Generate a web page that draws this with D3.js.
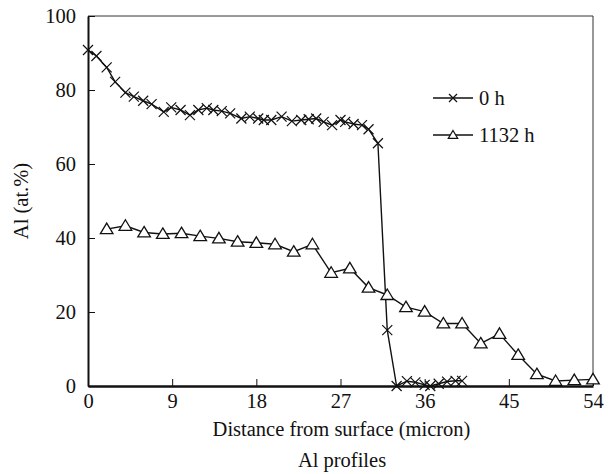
<!DOCTYPE html>
<html>
<head>
<meta charset="utf-8">
<script src="https://cdn.jsdelivr.net/npm/d3@7"></script>
<style>
  body { margin: 0; background: #fff; }
  svg text { font-family: "Liberation Serif", "Times New Roman", serif; }
</style>
</head>
<body>
<svg id="paper" width="611" height="474"></svg>
<script>
// series
const dist0 = [0, 0.9, 2, 2.9, 4, 4.9, 5.9, 6.8, 8.1, 8.9, 9.9, 10.9, 11.8, 12.7, 13.4, 14.3,
  15.2, 16.4, 17.3, 18.2, 18.8, 19.6, 20.7, 21.8, 22.8, 23.6, 24.4, 25.2, 26.1, 27.0, 27.5,
  28.4, 29.3, 30.0, 31.0, 32.0, 33.0, 34.1, 35.0, 36.0, 36.6, 37.5, 38.4, 39.3, 40.0];
const al0 = [90.8, 89.2, 86.1, 82.2, 79.3, 78.2, 77.1, 76.2, 74.1, 75.3, 74.6, 73.2, 74.6, 75.1,
  74.6, 74.3, 73.7, 72.3, 72.8, 72.3, 71.9, 71.9, 72.8, 71.6, 71.9, 72.1, 72.3, 71.4, 70.5,
  71.9, 71.4, 70.8, 70.5, 69.4, 65.6, 15.1, 0, 1.3, 1.0, 0.3, 0, 0.6, 1.2, 1.4, 1.4];

const dist1132 = [2, 4, 6, 8, 10, 12, 14, 16, 18, 20, 22, 24, 26, 28, 30, 32, 34, 36, 38, 40,
  42, 44, 46, 48, 50, 52, 54];
const al1132 = [42.4, 43.3, 41.5, 41.1, 41.3, 40.5, 39.9, 39.0, 38.7, 38.3, 36.3, 38.3, 30.6,
  31.8, 26.6, 24.6, 21.3, 20.1, 16.9, 16.9, 11.5, 14.1, 8.4, 3.2, 1.35, 1.6, 1.8];

const xTicks = [0, 9, 18, 27, 36, 45, 54];
const yTicks = [0, 20, 40, 60, 80, 100];
const seriesNames = ["0 h", "1132 h"];

var margin = {top: 16, right: 18, bottom: 88, left: 88},
    width = 611 - margin.left - margin.right,
    height = 474 - margin.top - margin.bottom;

var fontSize = 20.5;

var svg = d3.select("#paper"),
    g = svg.append("g")
        .attr("transform", "translate(" + margin.left + "," + margin.top + ")");

var x = d3.scaleLinear().domain([0, 54]).range([0, width]);
var y = d3.scaleLinear().domain([0, 100]).range([height, 0]);

// frame: thin top/right
g.append("line").attr("x1", 0).attr("x2", width).attr("y1", 0).attr("y2", 0)
    .attr("stroke", "#333").attr("stroke-width", 1);
g.append("line").attr("x1", width).attr("x2", width).attr("y1", 0).attr("y2", height)
    .attr("stroke", "#333").attr("stroke-width", 1);

// axes with inward ticks
var xAxis = g.append("g")
    .attr("transform", "translate(0," + height + ")")
    .call(d3.axisBottom(x).tickValues(xTicks).tickSize(-7).tickPadding(8).tickSizeOuter(0));
var yAxis = g.append("g")
    .call(d3.axisLeft(y).tickValues(yTicks).tickSize(-7).tickPadding(12).tickSizeOuter(0));

[xAxis, yAxis].forEach(a => {
    a.attr("font-family", null);
    a.selectAll("text").attr("font-size", fontSize).attr("fill", "#111");
    a.selectAll(".tick line").attr("stroke", "#111").attr("stroke-width", 1);
    a.select(".domain").attr("stroke", "#111");
});
xAxis.select(".domain").attr("stroke-width", 2.5);
yAxis.select(".domain").attr("stroke-width", 2);
yAxis.selectAll("text").attr("dy", "0.3em");
xAxis.selectAll("text").attr("dy", "0.7em");

// lines
var line = d3.line().x(d => x(d[0])).y(d => y(d[1]));
var pts0 = dist0.map((d, i) => [d, al0[i]]);
var pts1 = dist1132.map((d, i) => [d, al1132[i]]);

g.append("path").datum(pts1).attr("d", line)
    .attr("fill", "none").attr("stroke", "#111").attr("stroke-width", 1.4);
g.append("path").datum(pts0).attr("d", line)
    .attr("fill", "none").attr("stroke", "#111").attr("stroke-width", 1.4);

function crossPath(s) {
    return "M" + (-s) + "," + (-s) + "L" + s + "," + s + "M" + (-s) + "," + s + "L" + s + "," + (-s);
}
function triPath(s) {
    return "M0," + (-s) + "L" + (s * 1.05) + "," + (s * 0.75) + "L" + (-s * 1.05) + "," + (s * 0.75) + "Z";
}

g.selectAll(".m0").data(pts0).enter().append("path")
    .attr("class", "m0")
    .attr("transform", d => "translate(" + x(d[0]) + "," + y(d[1]) + ")")
    .attr("d", crossPath(5))
    .attr("stroke", "#111").attr("stroke-width", 1.2).attr("fill", "none");

g.selectAll(".m1").data(pts1).enter().append("path")
    .attr("class", "m1")
    .attr("transform", d => "translate(" + x(d[0]) + "," + y(d[1]) + ")")
    .attr("d", triPath(6))
    .attr("stroke", "#111").attr("stroke-width", 1.3).attr("fill", "#fff");

// legend
var legend = g.append("g").attr("transform", "translate(345,82)");
seriesNames.forEach((name, i) => {
    var row = legend.append("g").attr("transform", "translate(0," + (i * 37) + ")");
    row.append("line").attr("x1", 0).attr("x2", 40).attr("y1", 0).attr("y2", 0)
        .attr("stroke", "#111").attr("stroke-width", 1.3);
    row.append("path").attr("transform", "translate(20,0)")
        .attr("d", i === 0 ? crossPath(4) : triPath(4.5))
        .attr("stroke", "#111").attr("stroke-width", 1.2)
        .attr("fill", i === 0 ? "none" : "#fff");
    row.append("text").attr("x", 46).attr("dy", "0.33em")
        .attr("font-size", fontSize).attr("fill", "#111").text(name);
});

// axis titles
svg.append("text")
    .attr("x", margin.left + width / 2 + 1).attr("y", 436)
    .attr("text-anchor", "middle").attr("font-size", fontSize).attr("fill", "#111")
    .text("Distance from surface (micron)");
svg.append("text")
    .attr("x", 342).attr("y", 467)
    .attr("text-anchor", "middle").attr("font-size", fontSize).attr("fill", "#111")
    .text("Al profiles");
svg.append("text")
    .attr("transform", "translate(28," + (margin.top + height / 2) + ") rotate(-90)")
    .attr("text-anchor", "middle").attr("font-size", fontSize).attr("fill", "#111")
    .text("Al (at.%)");
</script>
</body>
</html>
